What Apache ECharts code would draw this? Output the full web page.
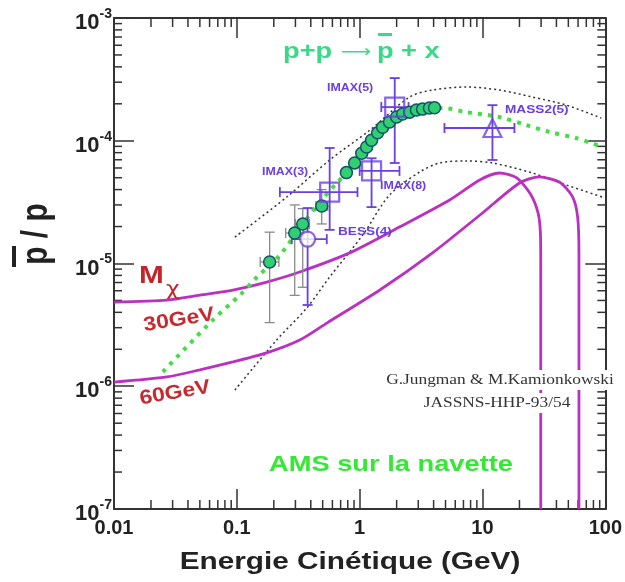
<!DOCTYPE html>
<html>
<head>
<meta charset="utf-8">
<script src="https://cdn.jsdelivr.net/npm/echarts@6/dist/echarts.min.js"></script>
<style>
html, body { margin: 0; padding: 0; background: #fff; }
#chart { width: 625px; height: 582px; }
</style>
</head>
<body>
<div id="chart"></div>
<script>
const X_MIN = 0.01
const X_MAX = 100
const Y_MIN = 1e-7
const Y_MAX = 1e-3

const xTickLabels = ['0.01', '0.1', '1', '10', '100']
const yTickExponents = ['-7', '-6', '-5', '-4', '-3']
const minorSteps = [2, 3, 4, 5, 6, 7, 8, 9]
const xDecades = [0.01, 0.1, 1, 10]
const yDecades = [1e-7, 1e-6, 1e-5, 1e-4]

// mesures pbar/p (points verts)
const dataEnergy = [0.185, 0.296, 0.344, 0.491, 0.78, 0.91, 1.04, 1.14, 1.25, 1.40, 1.54, 1.75, 2.0, 2.24, 2.55, 2.9, 3.25, 3.7, 4.07]
const dataRatio = [1.03e-5, 1.77e-5, 2.1e-5, 2.94e-5, 5.5e-5, 6.6e-5, 7.9e-5, 8.9e-5, 1.01e-4, 1.16e-4, 1.29e-4, 1.42e-4, 1.56e-4, 1.65e-4, 1.71e-4, 1.78e-4, 1.81e-4, 1.85e-4, 1.86e-4]
const dataErrBars = [
    // E, v, vLow, vHigh, eLow, eHigh
    [0.185, 1.03e-5, 3.3e-6, 1.8e-5, 0.155, 0.22],
    [0.296, 1.77e-5, 5.5e-6, 3.0e-5, 0.25, 0.35],
    [0.344, 2.1e-5, 6.4e-6, 2.8e-5, 0.30, 0.39],
    [0.491, 2.94e-5, 2.1e-5, 4.0e-5, 0.44, 0.55]
]

// IMAX, BESS, MASS2 (violet)
const imaxEnergy = [0.57, 1.25, 1.93]
const imaxRatio = [3.82e-5, 5.68e-5, 1.88e-4]
const imaxLow = [1.88e-5, 2.88e-5, 6.59e-5]
const imaxHigh = [8.73e-5, 7.2e-5, 3.24e-4]
const imaxELow = [0.224, 1.0, 1.5]
const imaxEHigh = [0.96, 2.11, 2.5]

const bessEnergy = [0.377]
const bessRatio = [1.58e-5]
const bessLow = [4.59e-6]
const bessHigh = [2.83e-5]
const bessELow = [0.28]
const bessEHigh = [0.54]

const massEnergy = [12.05]
const massRatio = [1.27e-4]
const massLow = [6.97e-5]
const massHigh = [1.95e-4]
const massELow = [4.9]
const massEHigh = [18.2]

// calcul secondaire p+p -> pbar+x (pointillé vert)
const secEnergy = [0.025, 0.0638, 0.106, 0.146, 0.224, 0.344, 0.49, 0.815, 1.25, 2.0, 3.7, 4.73, 7.4, 13.7, 22.8, 35, 58, 94.6]
const secRatio = [1.31e-6, 3.47e-6, 5.53e-6, 7.76e-6, 1.17e-5, 2.1e-5, 3.3e-5, 5.8e-5, 1.0e-4, 1.56e-4, 1.85e-4, 1.85e-4, 1.71e-4, 1.56e-4, 1.34e-4, 1.18e-4, 1.05e-4, 8.9e-5]

// bande d'incertitude (pointillés noirs)
const upperEnergy = [0.0964, 0.255, 0.57, 1.21, 2.55, 3.92, 7.41, 13.7, 25.5, 48.2, 92.7]
const upperRatio = [1.64e-5, 3.48e-5, 6.97e-5, 1.22e-4, 2.27e-4, 2.59e-4, 2.74e-4, 2.59e-4, 2.27e-4, 1.95e-4, 1.53e-4]
const lowerEnergy = [0.0964, 0.211, 0.371, 0.57, 1.06, 1.75, 3.08, 4.47, 7.41, 12.1, 25.5, 48.2, 94.6]
const lowerRatio = [9.3e-7, 2.38e-6, 4.34e-6, 7.76e-6, 1.71e-5, 3.61e-5, 5.56e-5, 6.59e-5, 6.84e-5, 6.59e-5, 5.46e-5, 4.36e-5, 3.48e-5]

// neutralino M = 30 GeV et 60 GeV (magenta)
const m30Energy = [0.01, 0.027, 0.05, 0.093, 0.175, 0.325, 0.83, 2.11, 5.4, 9.5, 13.7, 18.9, 24.5, 28.3, 29.6, 29.8, 29.8, 29.8]
const m30Ratio = [4.85e-6, 5.04e-6, 5.53e-6, 6.08e-6, 7.06e-6, 8.53e-6, 1.22e-5, 1.98e-5, 3.29e-5, 4.79e-5, 5.46e-5, 5.0e-5, 3.7e-5, 2.6e-5, 1.8e-5, 1.0e-5, 5e-6, 1e-7]
const m60Energy = [0.01, 0.027, 0.05, 0.093, 0.175, 0.325, 0.54, 1.46, 3.92, 10, 20, 29, 42.3, 54, 59.5, 61, 61, 61]
const m60Ratio = [1.08e-6, 1.19e-6, 1.36e-6, 1.58e-6, 1.87e-6, 2.38e-6, 3.27e-6, 6.08e-6, 1.22e-5, 2.58e-5, 4.53e-5, 5.07e-5, 4.61e-5, 3.5e-5, 2.4e-5, 1.2e-5, 5e-6, 1e-7]

const MAGENTA = '#bb30c0'
const PURPLE = '#6a40e0'
const GREEN_DOT = '#44dd44'
const FRAME = '#333'
const STRETCH = 1.24

function zip(a, b) {
    return a.map((v, i) => [v, b[i]])
}

function barRows(e, v, lo, hi, elo, ehi) {
    return e.map((x, i) => [x, v[i], lo[i], hi[i], elo[i], ehi[i]])
}

const xMinorTicks = []
xDecades.forEach(d => minorSteps.forEach(k => xMinorTicks.push([d * k, Y_MIN])))
const yMinorTicks = []
yDecades.forEach(d => minorSteps.forEach(k => yMinorTicks.push([X_MIN, d * k])))

function renderXMinor(params, api) {
    const v = api.value(0)
    const b = api.coord([v, Y_MIN])
    const t = api.coord([v, Y_MAX])
    const style = { stroke: FRAME, lineWidth: 1.5 }
    return {
        type: 'group',
        children: [
            { type: 'line', shape: { x1: b[0], y1: b[1], x2: b[0], y2: b[1] - 9 }, style },
            { type: 'line', shape: { x1: t[0], y1: t[1], x2: t[0], y2: t[1] + 9 }, style }
        ]
    }
}

function renderYMinor(params, api) {
    const v = api.value(1)
    const l = api.coord([X_MIN, v])
    const r = api.coord([X_MAX, v])
    const style = { stroke: FRAME, lineWidth: 1.5 }
    return {
        type: 'group',
        children: [
            { type: 'line', shape: { x1: l[0], y1: l[1], x2: l[0] + 8, y2: l[1] }, style },
            { type: 'line', shape: { x1: r[0], y1: r[1], x2: r[0] - 8, y2: r[1] }, style }
        ]
    }
}

function errorBarRenderer(color, width) {
    return function (params, api) {
        const e = api.value(0)
        const v = api.value(1)
        const lo = api.coord([e, api.value(2)])
        const hi = api.coord([e, api.value(3)])
        const l = api.coord([api.value(4), v])
        const r = api.coord([api.value(5), v])
        const cap = 5
        const style = { stroke: color, lineWidth: width }
        return {
            type: 'group',
            children: [
                { type: 'line', shape: { x1: lo[0], y1: lo[1], x2: hi[0], y2: hi[1] }, style },
                { type: 'line', shape: { x1: lo[0] - cap, y1: lo[1], x2: lo[0] + cap, y2: lo[1] }, style },
                { type: 'line', shape: { x1: hi[0] - cap, y1: hi[1], x2: hi[0] + cap, y2: hi[1] }, style },
                { type: 'line', shape: { x1: l[0], y1: l[1], x2: r[0], y2: r[1] }, style },
                { type: 'line', shape: { x1: l[0], y1: l[1] - cap, x2: l[0], y2: l[1] + cap }, style },
                { type: 'line', shape: { x1: r[0], y1: r[1] - cap, x2: r[0], y2: r[1] + cap }, style }
            ]
        }
    }
}

function label(text, x, y, font, fill) {
    return {
        type: 'text', x, y, z: 100, scaleX: STRETCH,
        style: { text, font, fill, textVerticalAlign: 'middle' }
    }
}

const axisCommon = {
    type: 'log',
    logBase: 10,
    axisLine: { show: true, onZero: false, lineStyle: { color: FRAME, width: 2 } },
    axisTick: { show: true, inside: true, length: 20, lineStyle: { color: FRAME, width: 1.5 } },
    splitLine: { show: false },
    minorTick: { show: false }
}

const chart = echarts.init(document.getElementById('chart'))

chart.setOption({
    animation: false,
    backgroundColor: '#fff',
    grid: { left: 114, top: 18, right: 19, bottom: 73, containLabel: false },
    xAxis: [
        Object.assign({}, axisCommon, {
            position: 'bottom', min: X_MIN, max: X_MAX,
            axisLabel: {
                margin: 9,
                fontSize: 20,
                fontWeight: 'bold',
                color: '#222',
                fontFamily: 'Liberation Sans',
                formatter: v => xTickLabels[Math.round(Math.log10(v)) + 2]
            }
        }),
        Object.assign({}, axisCommon, {
            position: 'top', min: X_MIN, max: X_MAX,
            axisLabel: { show: false }
        })
    ],
    yAxis: [
        Object.assign({}, axisCommon, {
            position: 'left', min: Y_MIN, max: Y_MAX,
            axisLabel: {
                margin: 2,
                color: '#222',
                fontFamily: 'Liberation Sans',
                formatter: v => '{b|10}{e|' + yTickExponents[Math.round(Math.log10(v)) + 7] + '}',
                rich: {
                    b: { fontSize: 22, fontWeight: 'bold', color: '#222', fontFamily: 'Liberation Sans', padding: [10, 0, 0, 0] },
                    e: { fontSize: 14, fontWeight: 'bold', color: '#222', fontFamily: 'Liberation Sans', padding: [0, 0, 8, 0] }
                }
            }
        }),
        Object.assign({}, axisCommon, {
            position: 'right', min: Y_MIN, max: Y_MAX,
            axisLabel: { show: false }
        })
    ],
    series: [
        {
            type: 'custom', name: 'xMinor', renderItem: renderXMinor,
            data: xMinorTicks, encode: { x: 0, y: 1 }, silent: true, z: 1
        },
        {
            type: 'custom', name: 'yMinor', renderItem: renderYMinor,
            data: yMinorTicks, encode: { x: 0, y: 1 }, silent: true, z: 1
        },
        {
            type: 'line', name: 'upper', data: zip(upperEnergy, upperRatio),
            showSymbol: false, smooth: 0.3, z: 2,
            lineStyle: { color: '#333', width: 1.5, type: [2, 3] }
        },
        {
            type: 'line', name: 'lower', data: zip(lowerEnergy, lowerRatio),
            showSymbol: false, smooth: 0.3, z: 2,
            lineStyle: { color: '#333', width: 1.5, type: [2, 3] }
        },
        {
            type: 'line', name: 'M30', data: zip(m30Energy, m30Ratio),
            showSymbol: false, smooth: 0.25, z: 3,
            lineStyle: { color: MAGENTA, width: 2.8 }
        },
        {
            type: 'line', name: 'M60', data: zip(m60Energy, m60Ratio),
            showSymbol: false, smooth: 0.25, z: 3,
            lineStyle: { color: MAGENTA, width: 2.8 }
        },
        {
            type: 'line', name: 'secondaire', data: zip(secEnergy, secRatio),
            showSymbol: false, smooth: 0.3, z: 4,
            lineStyle: { color: GREEN_DOT, width: 4, type: [4, 6] }
        },
        {
            type: 'custom', name: 'dataErr', renderItem: errorBarRenderer('#8a8a8a', 1.3),
            data: dataErrBars, encode: { x: 0, y: 1 }, z: 5
        },
        {
            type: 'custom', name: 'imaxErr', renderItem: errorBarRenderer(PURPLE, 1.8),
            data: barRows(imaxEnergy, imaxRatio, imaxLow, imaxHigh, imaxELow, imaxEHigh), encode: { x: 0, y: 1 }, z: 6
        },
        {
            type: 'custom', name: 'bessErr', renderItem: errorBarRenderer(PURPLE, 1.8),
            data: barRows(bessEnergy, bessRatio, bessLow, bessHigh, bessELow, bessEHigh), encode: { x: 0, y: 1 }, z: 6
        },
        {
            type: 'custom', name: 'massErr', renderItem: errorBarRenderer(PURPLE, 1.8),
            data: barRows(massEnergy, massRatio, massLow, massHigh, massELow, massEHigh), encode: { x: 0, y: 1 }, z: 6
        },
        {
            type: 'scatter', name: 'data', data: zip(dataEnergy, dataRatio),
            symbol: 'circle', symbolSize: 12, z: 7,
            itemStyle: { color: '#2fcf72', borderColor: '#17506a', borderWidth: 1.5, opacity: 1 }
        },
        {
            type: 'scatter', name: 'IMAX', data: zip(imaxEnergy, imaxRatio),
            symbol: 'rect', symbolSize: 19, z: 8,
            itemStyle: { color: 'rgba(255,255,255,0)', borderColor: PURPLE, borderWidth: 2.2 }
        },
        {
            type: 'scatter', name: 'BESS', data: zip(bessEnergy, bessRatio),
            symbol: 'circle', symbolSize: 15, z: 8,
            itemStyle: { color: '#fff', borderColor: PURPLE, borderWidth: 2.2 }
        },
        {
            type: 'scatter', name: 'MASS2', data: zip(massEnergy, massRatio),
            symbol: 'triangle', symbolSize: 18, z: 8,
            itemStyle: { color: 'rgba(255,255,255,0)', borderColor: PURPLE, borderWidth: 2.2 }
        }
    ],
    graphic: [
        // titre axe y : pbar / p
        {
            type: 'text', x: 37, y: 234, rotation: Math.PI / 2, scaleY: 1.2, z: 100,
            style: { text: 'p / p', font: 'bold 30px "Liberation Sans"', fill: '#222', textAlign: 'center', textVerticalAlign: 'middle' }
        },
        { type: 'rect', z: 100, shape: { x: 12, y: 246, width: 4, height: 21 }, style: { fill: '#222' } },

        // titre axe x
        {
            type: 'text', x: 350, y: 562, scaleX: STRETCH, z: 100,
            style: { text: 'Energie Cinétique (GeV)', font: 'bold 24px "Liberation Sans"', fill: '#222', textAlign: 'center', textVerticalAlign: 'middle' }
        },

        // p+p -> pbar + x
        label('p+p', 283, 52, 'bold 22px "Liberation Sans"', '#3cd888'),
        label('⟶', 341, 53, '17px "DejaVu Sans"', '#3cd888'),
        label('p', 377, 52, 'bold 22px "Liberation Sans"', '#3cd888'),
        { type: 'rect', z: 100, shape: { x: 378, y: 33, width: 14, height: 3 }, style: { fill: '#3cd888' } },
        label('+ x', 401, 52, 'bold 22px "Liberation Sans"', '#3cd888'),

        // étiquettes des expériences
        label('IMAX(5)', 327, 88, 'bold 10px "Liberation Sans"', PURPLE),
        label('IMAX(3)', 262, 172, 'bold 10px "Liberation Sans"', PURPLE),
        label('IMAX(8)', 380, 186, 'bold 10px "Liberation Sans"', PURPLE),
        label('BESS(4)', 338, 232, 'bold 11px "Liberation Sans"', PURPLE),
        label('MASS2(5)', 505, 110, 'bold 11px "Liberation Sans"', PURPLE),

        // M chi, 30GeV, 60GeV
        label('M', 139, 276, 'bold 24px "Liberation Sans"', '#c2262c'),
        label('χ', 166, 290, '19px "DejaVu Sans"', '#c2262c'),
        {
            type: 'text', x: 179, y: 320, rotation: 0.16, scaleX: 1.15, z: 100,
            style: { text: '30GeV', font: 'bold 20px "Liberation Sans"', fill: '#c62a2e', textAlign: 'center', textVerticalAlign: 'middle' }
        },
        {
            type: 'text', x: 175, y: 393, rotation: 0.17, scaleX: 1.15, z: 100,
            style: { text: '60GeV', font: 'bold 20px "Liberation Sans"', fill: '#c62a2e', textAlign: 'center', textVerticalAlign: 'middle' }
        },

        // référence
        {
            type: 'text', x: 500, y: 380, scaleX: STRETCH, z: 100,
            style: { text: 'G.Jungman & M.Kamionkowski', font: '14px "Liberation Serif"', fill: '#333', textAlign: 'center', textVerticalAlign: 'middle', backgroundColor: '#fff', padding: [3, 2] }
        },
        {
            type: 'text', x: 497, y: 403, scaleX: STRETCH, z: 100,
            style: { text: 'JASSNS-HHP-93/54', font: '14px "Liberation Serif"', fill: '#333', textAlign: 'center', textVerticalAlign: 'middle', backgroundColor: '#fff', padding: [3, 2] }
        },

        // AMS
        {
            type: 'text', x: 391, y: 465, scaleX: STRETCH, z: 100,
            style: { text: 'AMS sur la navette', font: 'bold 22px "Liberation Sans"', fill: '#36e836', textAlign: 'center', textVerticalAlign: 'middle' }
        }
    ]
})
</script>
</body>
</html>
